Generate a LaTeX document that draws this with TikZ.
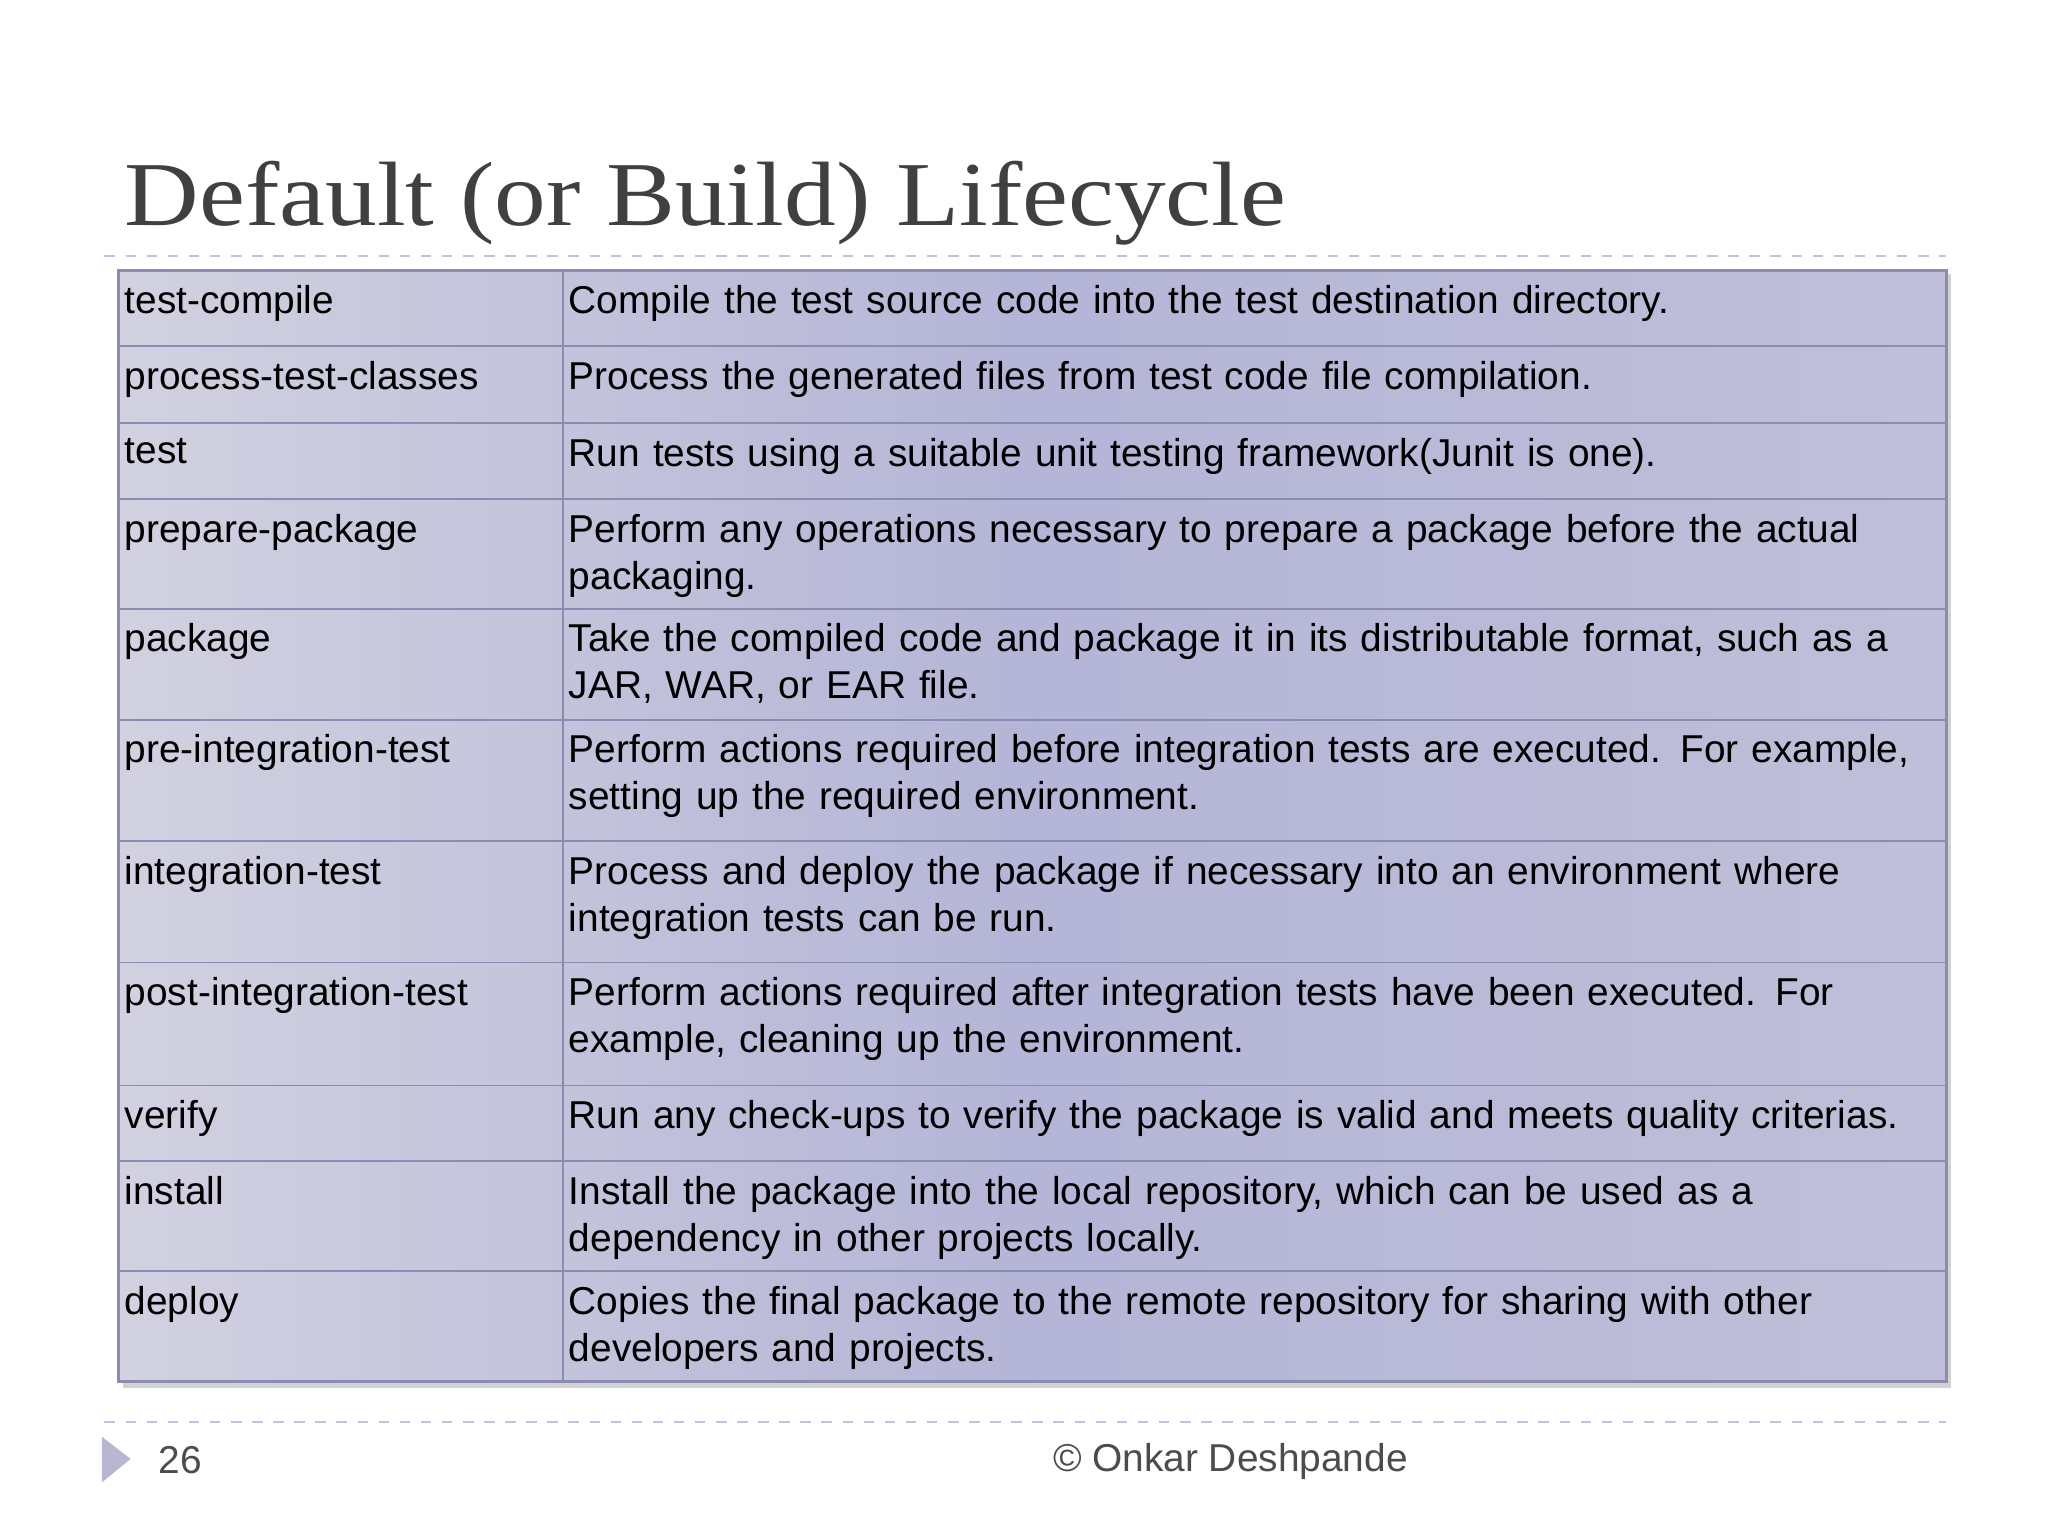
\documentclass[tikz,border=0pt]{standalone}
\usepackage{fontspec}
\usepackage{graphicx}
\setmainfont{Liberation Sans}
\newfontfamily\titlefont{Liberation Serif}
\begin{document}
\begin{tikzpicture}[x=0.013061cm,y=-0.013061cm,
  cell/.style={anchor=north west,inner sep=0pt,font=\fontsize{11.05pt}{13.4pt}\selectfont,align=left,text=black},
  rule/.style={draw=blue!20!gray!75,line width=0.5pt},
  sepline/.style={draw=gray!60!blue!35,dashed,line width=0.6pt}]
\useasboundingbox (0,0) rectangle (1568,1176);
\node[anchor=base west,inner sep=0pt,font=\titlefont\fontsize{26pt}{30pt}\selectfont,text=black!75] (title) at (95,173) {\scalebox{1.13}[1]{Default (or Build) Lifecycle}};
\draw[sepline] (80,196) -- (1490,196);
\fill[gray!35] (94,210) rectangle (1494,1063);
\shade[left color=blue!20!gray!30,right color=blue!25!gray!40,middle color=blue!30!gray!45] (91,207) rectangle (1490,1058);
\draw[rule,line width=0.8pt] (91,207) rectangle (1490,1058);
\draw[rule] (431,207) -- (431,1058);
\foreach \yy in {265,324,382,466,551,644,737,831,889,973} \draw[rule] (91,\yy) -- (1490,\yy);
\def\row#1#2#3#4{\node[cell] (l#1) at (95,#2+11) {#3}; \node[cell,text width=1050] (r#1) at (435,#2+11) {#4};}
\row{1}{207}{test-compile}{Compile the test source code into the test destination directory.}
\row{2}{265}{process-test-classes}{Process the generated files from test code file compilation.}
\row{3}{324}{test}{Run tests using a suitable unit testing framework(Junit is one).}
\row{4}{382}{prepare-package}{Perform any operations necessary to prepare a package before the actual\\packaging.}
\row{5}{466}{package}{Take the compiled code and package it in its distributable format, such as a\\JAR, WAR, or EAR file.}
\row{6}{551}{pre-integration-test}{Perform actions required before integration tests are executed. For example,\\setting up the required environment.}
\row{7}{644}{integration-test}{Process and deploy the package if necessary into an environment where\\integration tests can be run.}
\row{8}{737}{post-integration-test}{Perform actions required after integration tests have been executed. For\\example, cleaning up the environment.}
\row{9}{831}{verify}{Run any check-ups to verify the package is valid and meets quality criterias.}
\row{10}{889}{install}{Install the package into the local repository, which can be used as a\\dependency in other projects locally.}
\row{11}{973}{deploy}{Copies the final package to the remote repository for sharing with other\\developers and projects.}
\draw[sepline] (80,1089) -- (1490,1089);
\fill[blue!25!gray!45] (78,1100) -- (100,1117) -- (78,1135) -- cycle;
\node[inner sep=0pt,font=\fontsize{11.05pt}{13pt}\selectfont,text=black!70] (pg) at (138,1118) {26};
\node[inner sep=0pt,font=\fontsize{11.05pt}{13pt}\selectfont,text=black!70] (cp) at (942,1119) {© Onkar Deshpande};
\end{tikzpicture}
\end{document}
